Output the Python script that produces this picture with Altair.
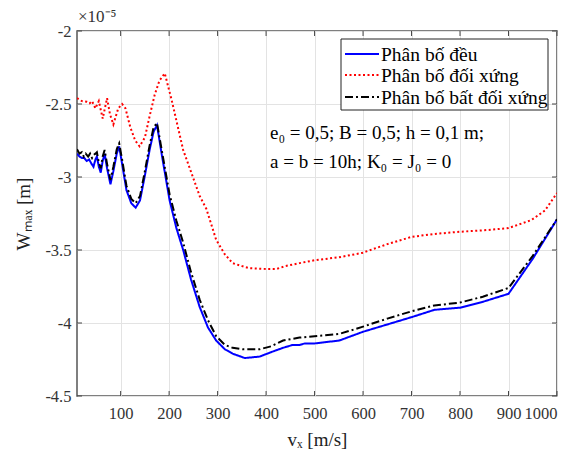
import altair as alt
import pandas as pd

# ---- data (values in units of 1e-5 m) ----
series_names = ["Phân bố đều", "Phân bố đối xứng", "Phân bố bất đối xứng"]
series_colors = ["#0000ff", "#ff0000", "#000000"]
series_dash = [[1, 0], [2, 2.5], [8, 3, 2, 3]]

vx_deu = [10, 15, 20, 25, 30, 35, 40, 44, 48, 51, 55, 59, 63, 67, 72, 79, 85, 92, 97, 103,
          112, 122, 131, 140, 150, 160, 168, 175, 185, 201, 215, 229, 245, 263, 280, 297,
          315, 331, 356, 387, 410, 435, 455, 469, 480, 500, 551, 600, 650, 700, 747, 800,
          847, 900, 950, 1000]
w_deu = [-2.84, -2.86, -2.87, -2.87, -2.89, -2.88, -2.91, -2.93, -2.88, -2.86, -2.93, -2.97,
         -2.89, -2.84, -2.94, -3.05, -2.96, -2.84, -2.79, -2.91, -3.09, -3.18, -3.21, -3.16,
         -2.99, -2.81, -2.69, -2.645, -2.85, -3.16, -3.35, -3.50, -3.70, -3.89, -4.03, -4.12,
         -4.18, -4.21, -4.24, -4.23, -4.20, -4.17, -4.15, -4.15, -4.14, -4.14, -4.12, -4.06,
         -4.01, -3.96, -3.91, -3.895, -3.855, -3.80, -3.56, -3.29]

vx_doixung = [10, 20, 30, 36, 41, 48, 55, 63, 72, 78, 85, 95, 103, 110, 120, 130, 139, 150,
              160, 170, 180, 191, 205, 229, 263, 277, 297, 315, 331, 350, 366, 400, 421, 440,
              469, 500, 550, 598, 650, 700, 747, 800, 850, 900, 947, 975, 1000]
w_doixung = [-2.46, -2.48, -2.485, -2.495, -2.48, -2.53, -2.48, -2.60, -2.46, -2.57, -2.64,
             -2.53, -2.50, -2.53, -2.66, -2.75, -2.79, -2.73, -2.58, -2.44, -2.34, -2.29,
             -2.47, -2.815, -3.13, -3.22, -3.43, -3.53, -3.59, -3.61, -3.625, -3.63, -3.63,
             -3.61, -3.59, -3.57, -3.55, -3.52, -3.46, -3.41, -3.39, -3.375, -3.365, -3.35,
             -3.295, -3.23, -3.11]

vx_batdoixung = [10, 15, 20, 24, 28, 33, 37, 41, 44, 48, 51, 55, 59, 63, 67, 72, 79, 85, 92,
                 97, 103, 112, 122, 131, 140, 150, 160, 168, 175, 185, 201, 215, 229, 245,
                 263, 280, 297, 315, 331, 352, 387, 410, 435, 469, 500, 551, 600, 650, 700,
                 747, 800, 847, 900, 950, 1000]
w_batdoixung = [-2.81, -2.84, -2.83, -2.86, -2.84, -2.86, -2.84, -2.87, -2.85, -2.84, -2.83,
                -2.90, -2.94, -2.86, -2.815, -2.91, -3.02, -2.93, -2.81, -2.77, -2.88, -3.06,
                -3.15, -3.18, -3.13, -2.96, -2.78, -2.66, -2.63, -2.82, -3.12, -3.30, -3.45,
                -3.65, -3.84, -3.98, -4.09, -4.15, -4.17, -4.18, -4.18, -4.16, -4.12, -4.10,
                -4.09, -4.075, -4.025, -3.97, -3.92, -3.88, -3.86, -3.82, -3.76, -3.54, -3.29]

x_ticks = [100, 200, 300, 400, 500, 600, 700, 800, 900, 1000]
y_ticks = [-4.5, -4, -3.5, -3, -2.5, -2]

annot_lines = ["e₀ = 0,5; B = 0,5; h = 0,1 m;", "a = b = 10h; K₀ = J₀ = 0"]
exponent_label = "×10⁻⁵"

W, H = 480, 365
FONT = "Liberation Serif"
LABEL_COLOR = "#333333"

xs = alt.Scale(domain=[10, 1000], nice=False, zero=False)
ys = alt.Scale(domain=[-4.5, -2], nice=False, zero=False)

x_axis = alt.Axis(values=x_ticks, labelExpr="'' + datum.value", grid=True,
                  gridColor="#e3e3e3", gridWidth=1, ticks=False, domain=False,
                  labelFont=FONT, labelFontSize=16.5, labelColor=LABEL_COLOR, labelPadding=9,
                  title="vₓ [m/s]", titleFont=FONT, titleFontSize=19,
                  titleFontWeight="normal", titleColor="#222222", titlePadding=9)
y_axis = alt.Axis(values=y_ticks, labelExpr="'' + datum.value", grid=True,
                  gridColor="#e3e3e3", gridWidth=1, ticks=False, domain=False,
                  labelFont=FONT, labelFontSize=16.5, labelColor=LABEL_COLOR, labelPadding=6,
                  title="Wₘₐₓ [m]", titleFont=FONT, titleFontSize=19,
                  titleFontWeight="normal", titleColor="#222222", titlePadding=11)

datasets = [(vx_deu, w_deu), (vx_doixung, w_doixung), (vx_batdoixung, w_batdoixung)]

layers = []
for i, (vx, w) in enumerate(datasets):
    df = pd.DataFrame({"v": vx, "w": w, "series": series_names[i]})
    layers.append(
        alt.Chart(df).mark_line(strokeWidth=2, color=series_colors[i],
                                strokeDash=series_dash[i], clip=True).encode(
            x=alt.X("v:Q", scale=xs, axis=x_axis),
            y=alt.Y("w:Q", scale=ys, axis=y_axis))
    )

# inside ticks (MATLAB style box)
xt = pd.DataFrame({"v": x_ticks})
yt = pd.DataFrame({"w": y_ticks})
tick_style = dict(color="#444444", strokeWidth=1)
ticks = [
    alt.Chart(xt).mark_rule(**tick_style).encode(x=alt.X("v:Q", scale=xs, axis=x_axis),
                                                 y=alt.value(H), y2=alt.value(H - 5)),
    alt.Chart(xt).mark_rule(**tick_style).encode(x=alt.X("v:Q", scale=xs, axis=x_axis),
                                                 y=alt.value(0), y2=alt.value(5)),
    alt.Chart(yt).mark_rule(**tick_style).encode(y=alt.Y("w:Q", scale=ys, axis=y_axis),
                                                 x=alt.value(0), x2=alt.value(5)),
    alt.Chart(yt).mark_rule(**tick_style).encode(y=alt.Y("w:Q", scale=ys, axis=y_axis),
                                                 x=alt.value(W), x2=alt.value(W - 5)),
]

# legend box (manual, MATLAB look)
lg_x0, lg_y0, lg_x1, lg_y1 = 264, 8, 471, 79
legend_layers = [
    alt.Chart(pd.DataFrame({"a": [0]})).mark_rect(fill="white", stroke="#222222",
                                                   strokeWidth=1).encode(
        x=alt.value(lg_x0), x2=alt.value(lg_x1), y=alt.value(lg_y0), y2=alt.value(lg_y1))
]
row_y = [23, 44, 66]
for i, name in enumerate(series_names):
    d = pd.DataFrame({"label": [name]})
    legend_layers.append(
        alt.Chart(d).mark_rule(color=series_colors[i], strokeWidth=2,
                               strokeDash=series_dash[i]).encode(
            x=alt.value(268), x2=alt.value(302), y=alt.value(row_y[i])))
    legend_layers.append(
        alt.Chart(d).mark_text(align="left", baseline="middle", font=FONT, fontSize=19.5,
                               color="black").encode(
            x=alt.value(304), y=alt.value(row_y[i] + 1), text="label:N"))

# annotation text
ann_layers = []
for i, t in enumerate(annot_lines):
    ann_layers.append(
        alt.Chart(pd.DataFrame({"t": [t]})).mark_text(
            align="left", baseline="middle", font=FONT, fontSize=19, color="black").encode(
            x=alt.value(193), y=alt.value(102 + 29 * i), text="t:N"))

exp_layer = alt.Chart(pd.DataFrame({"t": [exponent_label]})).mark_text(
    align="left", baseline="middle", font=FONT, fontSize=17, color=LABEL_COLOR).encode(
    x=alt.value(1), y=alt.value(-14), text="t:N")

chart = alt.layer(*layers, *ticks, *legend_layers, *ann_layers, exp_layer).properties(
    width=W, height=H,
    autosize=alt.AutoSizeParams(type="none"),
    padding={"left": 77, "top": 31, "right": 17, "bottom": 60},
    background="white",
).configure_view(stroke="#555555", strokeWidth=1.5)

chart.save("out.html", embed_options={"renderer": "svg", "actions": False})
